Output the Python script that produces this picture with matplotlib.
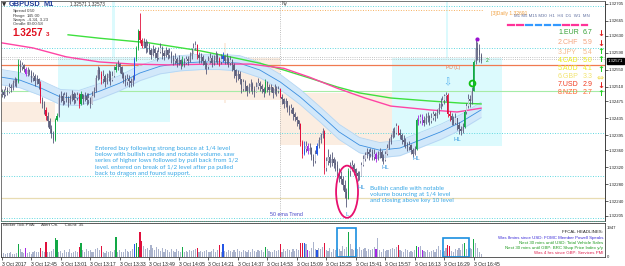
import numpy as np
import matplotlib.pyplot as plt
from matplotlib.patches import Rectangle, Ellipse

W, H = 625, 266

# GBPUSD M1, prices in points above 1.32000, one candle per minute from 12:29
first_open = 492
closes = [497, 490, 503, 498, 510, 506, 518, 525, 520, 562,
          555, 560, 552, 540, 548, 545, 530, 536, 522, 528,
          515, 478, 470, 455, 440, 428, 410, 398, 384, 430,
          440, 482, 488, 476, 490, 485, 472, 480, 492, 478,
          484, 490, 470, 492, 480, 488, 478, 484, 470, 488,
          500, 530, 548, 540, 528, 536, 520, 530, 540, 526,
          535, 548, 556, 562, 555, 540, 530, 520, 528, 524,
          518, 528, 575, 600, 640, 620, 606, 615, 600, 606,
          595, 585, 598, 590, 578, 592, 600, 588, 582, 595,
          585, 590, 578, 570, 575, 565, 572, 562, 570, 566,
          575, 570, 582, 590, 600, 608, 585, 578, 580, 570,
          560, 555, 570, 578, 565, 572, 582, 575, 568, 575,
          582, 570, 576, 565, 572, 560, 548, 535, 540, 528,
          505, 520, 512, 500, 508, 515, 505, 498, 510, 518,
          512, 505, 498, 520, 510, 502, 508, 495, 505, 500,
          504, 486, 480, 470, 475, 462, 455, 460, 445, 438,
          430, 422, 380, 352, 362, 370, 358, 365, 345, 335,
          352, 370, 385, 395, 405, 318, 335, 345, 330, 340,
          330, 325, 310, 300, 292, 278, 262, 245, 312, 320,
          325, 315, 305, 298, 300, 325, 340, 348, 355, 350,
          356, 345, 352, 340, 348, 355, 342, 338, 350, 365,
          380, 392, 405, 400, 418, 400, 396, 385, 380, 375,
          368, 372, 360, 352, 362, 432, 428, 438, 430, 425,
          435, 440, 428, 436, 445, 440, 448, 460, 470, 478,
          488, 490, 445, 440, 432, 425, 435, 420, 410, 405,
          415, 450, 465, 480, 475, 500, 568, 600, 595, 585, 571]
highs = [505, 504, 512, 510, 518, 515, 526, 532, 530, 575,
         572, 568, 564, 556, 556, 552, 548, 545, 540, 538,
         530, 522, 485, 476, 462, 450, 436, 420, 405, 436,
         448, 492, 500, 494, 498, 496, 488, 490, 502, 496,
         494, 498, 494, 500, 492, 498, 494, 494, 486, 500,
         508, 538, 558, 556, 546, 548, 540, 542, 550, 546,
         546, 558, 566, 572, 566, 558, 545, 538, 540, 538,
         530, 538, 580, 606, 645, 684, 625, 624, 622, 618,
         612, 600, 608, 604, 596, 604, 612, 606, 596, 604,
         598, 600, 594, 584, 588, 580, 584, 576, 582, 578,
         582, 582, 592, 600, 612, 617, 610, 592, 590, 585,
         575, 568, 582, 590, 585, 584, 594, 590, 580, 586,
         592, 585, 588, 580, 582, 575, 566, 552, 550, 546,
         518, 528, 526, 514, 518, 528, 520, 512, 520, 530,
         524, 516, 510, 528, 524, 515, 516, 508, 515, 512,
         512, 506, 492, 484, 484, 476, 466, 470, 462, 450,
         440, 432, 425, 385, 382, 381, 378, 376, 368, 352,
         360, 376, 392, 400, 412, 408, 345, 362, 352, 356,
         345, 340, 334, 318, 310, 300, 290, 270, 318, 332,
         336, 330, 318, 310, 312, 332, 348, 356, 365, 362,
         366, 362, 362, 356, 358, 364, 360, 352, 358, 375,
         388, 398, 412, 414, 424, 420, 410, 400, 395, 388,
         380, 382, 375, 364, 370, 436, 443, 446, 445, 440,
         448, 450, 442, 448, 452, 450, 458, 472, 482, 488,
         492, 497, 495, 452, 448, 440, 448, 436, 426, 418,
         424, 455, 472, 492, 490, 510, 572, 624, 615, 610, 590]
lows = [485, 484, 488, 490, 495, 498, 503, 512, 510, 518,
        545, 548, 544, 534, 536, 538, 520, 522, 512, 515,
        505, 472, 460, 445, 432, 415, 400, 388, 376, 382,
        428, 438, 474, 466, 470, 474, 462, 468, 476, 468,
        472, 478, 460, 466, 470, 476, 466, 470, 460, 474,
        486, 498, 526, 528, 516, 518, 510, 516, 524, 514,
        522, 532, 544, 550, 542, 530, 518, 512, 514, 510,
        508, 512, 525, 570, 596, 612, 600, 600, 590, 592,
        586, 576, 582, 578, 570, 575, 588, 576, 572, 580,
        576, 578, 566, 560, 562, 556, 560, 552, 558, 555,
        562, 560, 568, 576, 588, 595, 575, 565, 566, 560,
        552, 540, 552, 565, 556, 560, 568, 564, 558, 562,
        568, 562, 562, 556, 560, 546, 530, 520, 525, 515,
        495, 500, 500, 488, 495, 500, 492, 486, 496, 505,
        500, 494, 485, 495, 498, 490, 496, 483, 492, 488,
        494, 482, 470, 460, 462, 450, 444, 448, 432, 428,
        418, 410, 370, 341, 348, 355, 350, 352, 336, 322,
        330, 348, 365, 378, 388, 303, 310, 325, 320, 322,
        318, 312, 298, 285, 280, 265, 248, 225, 250, 300,
        312, 302, 290, 287, 290, 298, 322, 334, 342, 338,
        344, 336, 338, 332, 336, 342, 334, 328, 335, 348,
        362, 375, 388, 390, 398, 395, 386, 374, 370, 364,
        358, 360, 350, 343, 348, 360, 419, 424, 420, 418,
        422, 426, 419, 424, 432, 428, 436, 445, 456, 465,
        470, 475, 438, 428, 420, 419, 422, 408, 398, 396,
        400, 412, 445, 460, 462, 470, 500, 562, 572, 568, 565]

# PVA coloured candles
pva_green = [9, 29, 30, 43, 62, 73, 74, 98, 143, 188, 225, 251, 256]
pva_red = [21, 24, 42, 54, 75, 76, 106, 118, 151, 162, 163, 175, 215, 242, 243]
pva_blue = [72, 120, 164, 171]
pva_purple = [13, 166, 203, 226, 228]

# broker tick volume
volume = [210, 260, 190, 280, 240, 310, 210, 180, 270, 830,
          530, 330, 280, 570, 240, 310, 180, 350, 390, 300,
          330, 610, 380, 350, 970, 300, 350, 410, 500, 1220,
          1090, 310, 390, 240, 450, 350, 310, 500, 280, 350,
          410, 350, 660, 890, 470, 330, 530, 380, 450, 350,
          310, 500, 590, 450, 730, 350, 280, 420, 330, 380,
          300, 470, 1300, 350, 450, 310, 350, 500, 410, 330,
          390, 530, 830, 900, 660, 1600, 1060, 710, 530, 610,
          470, 770, 570, 450, 660, 500, 420, 590, 350, 520,
          450, 350, 500, 410, 330, 530, 380, 310, 680, 350,
          410, 330, 470, 390, 450, 530, 610, 350, 410, 330,
          390, 470, 350, 330, 410, 500, 350, 450, 770, 350,
          850, 410, 330, 470, 380, 310, 450, 350, 530, 410,
          330, 470, 390, 300, 450, 350, 500, 410, 330, 470,
          390, 450, 350, 660, 500, 410, 350, 330, 470, 390,
          450, 830, 350, 500, 410, 530, 450, 350, 500, 410,
          530, 450, 890, 940, 900, 830, 470, 410, 590, 1000,
          530, 450, 590, 500, 650, 940, 470, 410, 570, 350,
          500, 450, 590, 500, 410, 710, 530, 650, 1600, 830,
          530, 450, 590, 500, 650, 450, 530, 590, 410, 500,
          450, 530, 650, 500, 1240, 450, 350, 530, 410, 470,
          450, 530, 590, 500, 660, 760, 470, 410, 350, 500,
          450, 350, 410, 330, 470, 730, 660, 710, 470, 410,
          350, 450, 330, 410, 470, 350, 530, 730, 450, 350,
          410, 610, 800, 710, 410, 350, 530, 450, 610, 470,
          830, 920, 530, 450, 590, 500, 1180, 890, 590, 350, 180]

# dragon band (ema of highs / lows) and the two trend emas
dragon_t = [0, 10, 21, 32, 42, 53, 64, 75, 86, 97, 108, 118, 129, 140, 151,
            162, 173, 183, 194, 205, 216, 227, 238, 249, 260]
dragon_mid = [532, 525, 507, 485, 483, 499, 518, 542, 558, 565, 568, 568, 565,
              549, 521, 485, 443, 403, 372, 360, 365, 384, 403, 426, 455]
dragon_hi = [550, 543, 525, 503, 501, 517, 536, 560, 576, 583, 586, 586, 583,
             567, 539, 503, 461, 421, 390, 378, 383, 402, 421, 444, 473]
dragon_lo = [514, 507, 489, 467, 465, 481, 500, 524, 540, 547, 550, 550, 547,
             531, 503, 467, 425, 385, 354, 342, 347, 366, 385, 408, 437]
green_t = [36, 53, 80, 108, 126, 140, 153, 167, 182, 194, 211, 232, 249, 260]
green_v = [632, 624, 613, 594, 578, 565, 549, 530, 509, 495, 483, 476, 471, 469]
pink_t = [0, 17, 35, 53, 71, 91, 113, 135, 153, 167, 182, 197, 211, 232, 247, 260]
pink_v = [613, 601, 580, 568, 563, 561, 563, 563, 553, 532, 506, 483, 464, 455, 450, 459]

# zones: (start, end, top, bottom)
cyan_zones = [(30.5, 91.3, 580, 427), (211.7, 271.3, 577, 370)]
beige_zones = [(-1, 29, 474, 427), (91.3, 150.9, 577, 478), (150.9, 211.7, 495, 372)]
vol_boxes = [(181.8, 192.1, 1880), (239.3, 253.4, 1230)]

price_ticks = [1.32705, 1.32665, 1.32630, 1.32590, 1.32550, 1.32510, 1.32475,
               1.32435, 1.32395, 1.32360, 1.32320, 1.32280, 1.32240, 1.32205]
time_labels = ["3 Oct 2017", "3 Oct 12:45", "3 Oct 13:01", "3 Oct 13:17", "3 Oct 13:33",
               "3 Oct 13:49", "3 Oct 14:05", "3 Oct 14:21", "3 Oct 14:37", "3 Oct 14:53",
               "3 Oct 15:09", "3 Oct 15:25", "3 Oct 15:41", "3 Oct 15:57", "3 Oct 16:13",
               "3 Oct 16:29", "3 Oct 16:45"]
time_pos = [0, 16, 32, 48, 64, 80, 96, 112, 128, 144, 160, 176, 192, 208, 224, 240, 256]

cur_names = ["1.EUR", "2.CHF", "3.JPY", "4.CAD", "5.AUD", "6.GBP", "7.USD", "8.NZD"]
cur_vals = ["6.7", "5.9", "5.4", "5.0", "4.1", "3.3", "2.9", "2.7"]
cur_dir = ["dn", "dn", "up", "up", "up", "flat", "dn", "up"]
cur_cols = ['#34a034', '#f4a47e', '#f5b98c', '#efef1c', '#eeee2a', '#f2e46e', '#f03a1e', '#ff6630']

headlines = [("FFCAL HEADLINES:", '#202020'),
             ("Was 8mins since USD: FOMC Member Powell Speaks", '#3a2ad8'),
             ("Next 30 mins until USD: Total Vehicle Sales", '#1e9a1e'),
             ("Next 30 mins until GBP: BRC Shop Price Index y/y", '#1e9a1e'),
             ("Was 4 hrs since GBP: Services PMI", '#e0204e')]


def px(v):
    return 1.32 + np.asarray(v, dtype=float) / 1e5


plt.rcParams['font.family'] = ['Liberation Sans', 'DejaVu Sans']
fig = plt.figure(figsize=(W / 100, H / 100), dpi=100)
fig.patch.set_facecolor('white')

ax = fig.add_axes([1 / W, 45 / H, 604 / W, 220 / H])
axv = fig.add_axes([1 / W, 9 / H, 604 / W, 34.5 / H])
XL = (-0.38, 327.2)

t = np.arange(len(closes))
o = px([first_open] + closes[:-1])
c = px(closes)
hi = np.maximum(px(highs), np.maximum(o, c))
lo = np.minimum(px(lows), np.minimum(o, c))

body = ['#c5c7d5' if cc >= oo else '#5e6079' for oo, cc in zip(o, c)]
wick = ['#55587a'] * len(t)
for lst, colr in [(pva_green, '#12a845'), (pva_red, '#e0103c'),
                  (pva_blue, '#2456e6'), (pva_purple, '#a424e4')]:
    for i in lst:
        body[i] = colr
        wick[i] = colr

# zones
for a, b, top, bot in cyan_zones:
    ax.add_patch(Rectangle((a, px(bot)), b - a, px(top) - px(bot), fc='#dcfafd', ec='none', zorder=0))
for a, b, top, bot in beige_zones:
    ax.add_patch(Rectangle((a, px(bot)), b - a, px(top) - px(bot), fc='#fbede1', ec='none', zorder=0))
ax.add_patch(Rectangle((59.8, px(580)), 1.4, px(720) - px(580), fc='#dcfafd', ec='none', zorder=0))
ax.add_patch(Rectangle((241, px(577)), 1.0, px(720) - px(577), fc='#dcfafd', ec='none', zorder=0))
ax.add_patch(Rectangle((120.7, px(471)), 0.7, px(613) - px(471), fc='#fbede1', ec='none', zorder=0))

# horizontal levels
dot = (0, (1, 1.6))
for lev in [700, 600, 400, 300, 200]:
    ax.axhline(px(lev), color='#5fd8e0', lw=0.7, ls=dot, zorder=1)
ax.axhline(px(500), color='#a6eca6', lw=0.8, zorder=1)
for lev in [580, 575]:
    ax.axhline(px(lev), color='#b4b4b4', lw=0.6, ls=dot, zorder=1)
ax.hlines(px(691), 75, 261, color='#f6b060', lw=0.7, ls=dot, zorder=1)
ax.axhline(px(560), color='#f07a50', lw=0.9, zorder=1)
ax.axhline(px(247), color='#e8dcb2', lw=0.9, zorder=1)
ax.axvline(151, color='#a8a8a8', lw=0.6, ls=dot, zorder=1)

# dragon + emas
ax.fill_between(dragon_t, px(dragon_lo), px(dragon_hi), color='#d2e8fa', lw=0, zorder=1)
ax.plot(dragon_t, px(dragon_hi), color='#b4d6f4', lw=0.6, zorder=1)
ax.plot(dragon_t, px(dragon_lo), color='#b4d6f4', lw=0.6, zorder=1)
ax.plot(dragon_t, px(dragon_mid), color='#3c8fe0', lw=0.6, zorder=2)
ax.plot(green_t, px(green_v), color='#3ee03e', lw=1.0, zorder=2)
ax.plot(pink_t, px(pink_v), color='#ff44a4', lw=1.0, zorder=2)

# candles
ax.vlines(t, lo, hi, colors=wick, lw=0.6, zorder=3)
ax.bar(t, c - o, bottom=o, width=0.62, color=body, lw=0, zorder=3)

# marks on chart
ax.add_patch(Ellipse((187.3, px(262)), 11.9, px(123) - px(0), fill=False, ec='#e8106e', lw=1.3, zorder=4))
ax.plot([255], [px(518)], 'o', ms=4.2, mfc='none', mec='#10c010', mew=1.3, zorder=4)
ax.plot([258], [px(622)], 'o', ms=2, color='#9a10d0', zorder=4)
ax.text(241.5, px(520), '\u21e9', color='#5ab4f0', fontsize=7, ha='center', va='center',
        family='DejaVu Sans', zorder=4)
hl_col = '#3c9be0'
for x, y, s in [(208, 320, 'HL'), (225, 341, 'HL'), (247, 384, 'HL'), (195, 271, 'HL'), (187.5, 209, 'L')]:
    ax.text(x, px(y), s, color=hl_col, fontsize=4.3, ha='center', va='center', zorder=4)

ax.set_xlim(*XL)
ax.set_ylim(px(193), px(711.7))
ax.yaxis.tick_right()
ax.set_yticks(price_ticks)
ax.set_yticklabels([f'{v:.5f}' for v in price_ticks])
ax.tick_params(axis='y', labelsize=3.1, length=2, width=0.5, pad=0.6, colors='#202020')
ax.set_xticks([])
for s in ax.spines.values():
    s.set_color('#606060')
    s.set_linewidth(0.6)
ax.spines['right'].set_color('#202020')
ax.annotate('1.32571', xy=(1.0, px(571)), xycoords=('axes fraction', 'data'),
            xytext=(2, 0), textcoords='offset points', color='white', fontsize=3.1,
            va='center', ha='left', annotation_clip=False,
            bbox=dict(boxstyle='square,pad=0.25', fc='black', ec='black'))

# volume panel
vcol = []
for i in t:
    vcol.append(body[i] if wick[i] != '#55587a' else '#aab3cc')
axv.bar(t, volume, width=0.62, color=vcol, lw=0)
for a, b, top in vol_boxes:
    axv.add_patch(Rectangle((a, 0), b - a, top, fill=False, ec='#1a8fe0', lw=1.2))
axv.set_xlim(*XL)
axv.set_ylim(0, 2240)
axv.yaxis.tick_right()
axv.set_yticks([0, 1947])
axv.set_yticklabels(['0', '1947'])
axv.tick_params(axis='y', labelsize=3.1, length=0, pad=1.5, colors='#202020')
axv.set_xticks(time_pos)
axv.set_xticklabels(time_labels, ha='left')
axv.tick_params(axis='x', labelsize=3.6, length=2.5, width=0.5, pad=0.8, colors='#202020')
for s in axv.spines.values():
    s.set_color('#404040')
    s.set_linewidth(0.6)


def ft(x, y, s, **kw):
    kw.setdefault('va', 'center')
    fig.text(x / W, 1 - y / H, s, **kw)


# separator between panes
fig.add_artist(plt.Line2D([1 / W, 605 / W], [1 - 221 / H, 1 - 221 / H], color='#40c0a0', lw=0.6, ls=dot))

# header text
ft(2, 5, '\u25bc', fontsize=4, color='#303030', family='DejaVu Sans')
ft(9, 5, 'GBPUSD', fontsize=5.3, color='#1f3c96', weight='bold')
ft(44, 5, 'M1', fontsize=5.3, color='#1f3c96', weight='bold')
ft(70, 4, '1.32571 1.32573', fontsize=3.3, color='#303030')
for y, k, v in [(11, 'Spread', '0.50'), (15.7, 'Range', '145.00'),
                (20, 'Swaps', '-4.34, 3.23'), (24.3, 'Candle', '00:00:58')]:
    ft(13, y, k, fontsize=3.2, color='#404040')
    ft(27, y, v, fontsize=3.2, color='#404040')
ft(12, 33, '1.3257', fontsize=7.2, color='#e01020', weight='bold')
ft(46, 34, '3', fontsize=4.5, color='#e01020', weight='bold')
ft(282, 4, 'Ny', fontsize=3.5, color='#404040')
ft(270, 214, '50 ema Trend', fontsize=3.8, color='#4646c8')
ft(446, 68, 'PD (L)', fontsize=3.6, color='#f07a50')
ft(486, 60, '2', fontsize=3.6, color='#20a020')

note1 = ("Entered buy following strong bounce at 1/4 level\n"
         "below with bullish candle and notable volume. saw\n"
         "series of higher lows followed by pull back from 1/2\n"
         "level. entered on break of 1/2 level after pa pulled\n"
         "back to dragon and found support.")
ft(95, 146, note1, fontsize=4.5, color='#36a6e6', va='top', linespacing=1.3, family='Lato')
note2 = ("Bullish candle with notable\n"
         "volume bouncing at 1/4 level\n"
         "and closing above key 10 level")
ft(370, 186, note2, fontsize=4.5, color='#36a6e6', va='top', linespacing=1.3, family='Lato')

# right side panel
ft(491, 13, '[3]Daily 1.32691', fontsize=3.6, color='#f0a040')
ft(514, 16, 'M1 M5 M15 M30  H1  H4  D1  W1  MN', fontsize=3.2, color='#6070a0')
dash_cols = ['#ff3399', '#ff3399', '#3399ff', '#3399ff', '#3399ff', '#3399ff',
             '#ff3399', '#ff3399', '#ff3399']
for k, dc in enumerate(dash_cols):
    x0 = 508 + k * 9.2
    fig.add_artist(plt.Line2D([x0 / W, (x0 + 5.5) / W], [1 - 25 / H] * 2, color=dc, lw=1.6))
rows_y = [33, 43, 52, 60, 69, 77, 85, 93]
arrow = {'up': ('\u2191', '#22d022'), 'dn': ('\u2193', '#e02020'), 'flat': ('\u21d4', '#f0e060')}
for y, n, v, d, cc in zip(rows_y, cur_names, cur_vals, cur_dir, cur_cols):
    ft(558, y, n, fontsize=5, color=cc)
    ft(583, y, v, fontsize=5, color=cc)
    s, ac = arrow[d]
    ft(597, y, s, fontsize=6, color=ac, weight='bold', family='DejaVu Sans')

# volume panel texts
ft(3, 225.5, 'Broker Tick PVA:     Alert On.     Count: 35', fontsize=3.2, color='#303030')
for (s, cc), y in zip(headlines, [232, 238, 243, 248, 253]):
    ft(603, y, s, fontsize=3.2, color=cc, ha='right')

fig.savefig('out.png', dpi=100, facecolor='white')
